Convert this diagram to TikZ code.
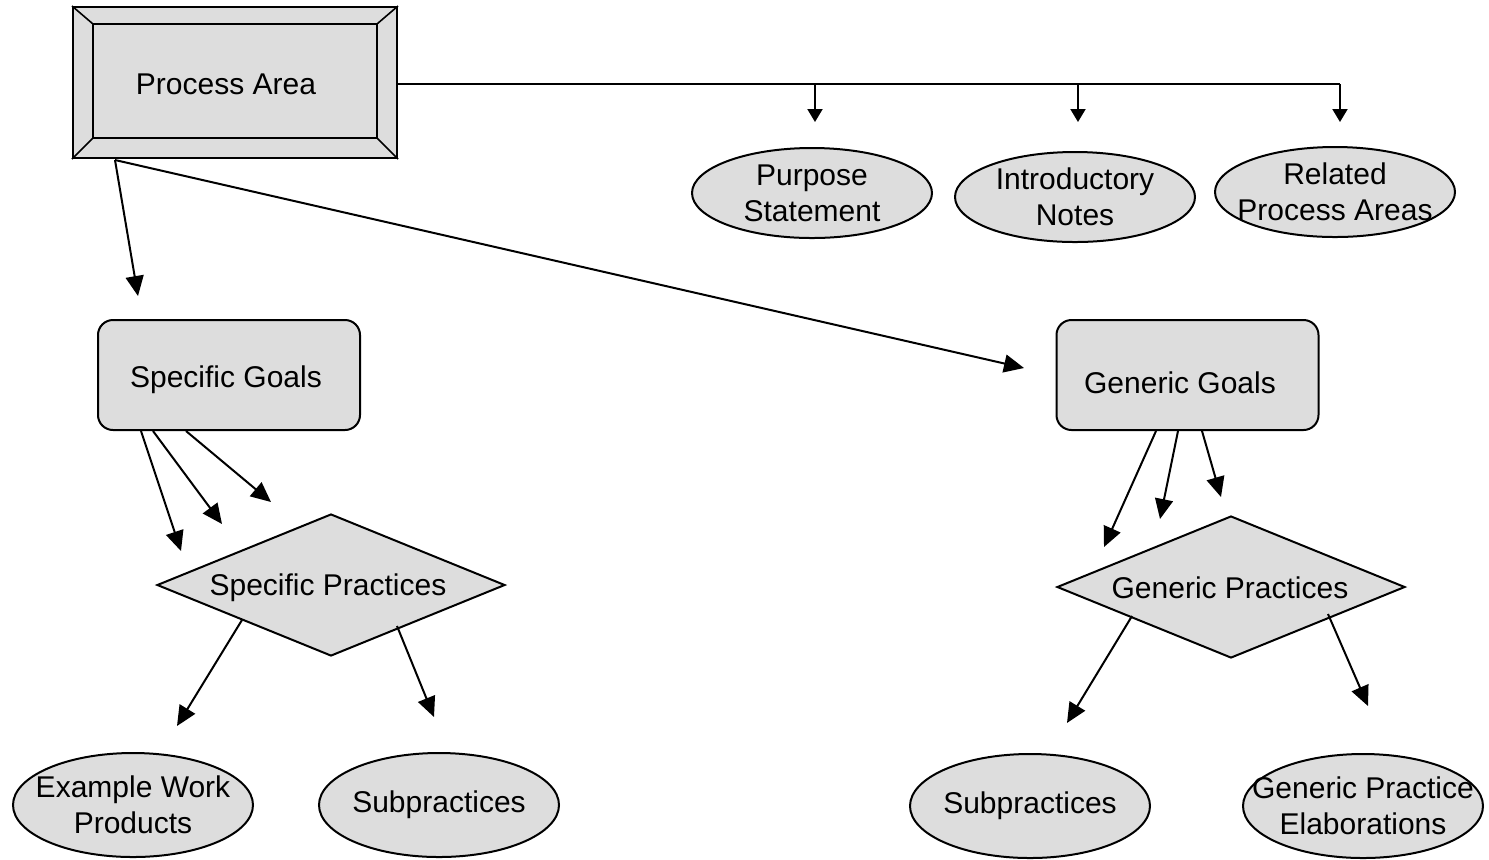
\documentclass[tikz,border=0pt]{standalone}
\usepackage{fontspec}
\setmainfont{Liberation Sans}
\usetikzlibrary{arrows.meta,shapes.geometric}
\definecolor{boxgray}{HTML}{DDDDDD}
\begin{document}
\begin{tikzpicture}[x=0.5pt,y=-0.5pt,
  every node/.style={font=\fontsize{15pt}{18pt}\selectfont, align=center},
  shapeline/.style={draw=black, line width=1pt, fill=boxgray},
  oval/.style={shapeline, ellipse, inner xsep=-30pt, inner ysep=-10pt, minimum width=120pt, minimum height=45pt},
  goalbox/.style={shapeline, rectangle, rounded corners=7.5pt, minimum width=131pt, minimum height=55pt},
  practice/.style={shapeline, diamond, aspect=2.45, inner sep=0pt, minimum width=174pt, minimum height=71pt},
  bigarrow/.style={line width=1pt, -{Triangle[length=10pt,width=9pt]}},
  smallarrow/.style={line width=1pt, -{Triangle[length=6.5pt,width=7.5pt]}}
]
\useasboundingbox (0,0) rectangle (1489,859);

% Process Area bevelled box
\node[shapeline, rectangle, minimum width=162pt, minimum height=75.5pt, inner sep=0pt] (pa) at (235,82.5) {};
\draw[line width=1pt] (93,24) rectangle (377,138);
\draw[line width=0.8pt] (pa.north west) -- (93,24) (pa.north east) -- (377,24)
  (pa.south west) -- (93,138) (pa.south east) -- (377,138);
\node (patext) at (226,84) {Process Area};

% top ovals
\node[oval] (ps) at (812,193) {Purpose\\Statement};
\node[oval] (in) at (1075,197) {Introductory\\Notes};
\node[oval] (rp) at (1335,192) {Related\\Process Areas};

\coordinate (hend) at (1340,84);
\coordinate (d1) at (815,84);
\coordinate (d2) at (1078,84);
\coordinate (t1) at (815,122);
\coordinate (t2) at (1078,122);
\coordinate (t3) at (1340,122);
\draw[line width=1pt] (pa.east |- hend) -- (hend);
\draw[smallarrow] (d1) -- (t1);
\draw[smallarrow] (d2) -- (t2);
\draw[smallarrow] (hend) -- (t3);

% goals
\node[goalbox] (sg) at (229,375) {};
\node (sgtext) at (226,380) {Specific Goals};
\node[goalbox] (gg) at (1187.5,375) {};
\node (ggtext) at (1180,383) {Generic Goals};

\coordinate (pastart) at (115,160);
\coordinate (sgtip) at (138,296);
\coordinate (ggtip) at (1024,368);
\draw[bigarrow] (pastart) -- (sgtip);
\draw[bigarrow] (pastart) -- (ggtip);

% practices
\node[practice] (sp) at (331,585) {};
\node (sptext) at (328,588) {Specific Practices};
\node[practice] (gp) at (1231,587) {};
\node (gptext) at (1230,588) {Generic Practices};

\coordinate (sa1) at (141,431); \coordinate (sb1) at (181,551);
\coordinate (sa2) at (153,431); \coordinate (sb2) at (222,524);
\coordinate (sa3) at (186,431); \coordinate (sb3) at (271,502);
\draw[bigarrow] (sa1) -- (sb1);
\draw[bigarrow] (sa2) -- (sb2);
\draw[bigarrow] (sa3) -- (sb3);

\coordinate (ga1) at (1156,431); \coordinate (gb1) at (1104,547);
\coordinate (ga2) at (1178,431); \coordinate (gb2) at (1160,519);
\coordinate (ga3) at (1202,431); \coordinate (gb3) at (1221,497);
\draw[bigarrow] (ga1) -- (gb1);
\draw[bigarrow] (ga2) -- (gb2);
\draw[bigarrow] (ga3) -- (gb3);

% bottom ovals
\node[oval, minimum height=52pt] (ew) at (133,805) {Example Work\\Products};
\node[oval, minimum height=52pt] (sub1) at (439,805) {Subpractices};
\node[oval, minimum height=52pt] (sub2) at (1030,806) {Subpractices};
\node[oval, minimum height=52pt] (gpe) at (1363,806) {Generic Practice\\Elaborations};

\coordinate (pa1) at (242,620); \coordinate (pb1) at (177,726);
\coordinate (pa2) at (397,626); \coordinate (pb2) at (434,717);
\coordinate (pa3) at (1132,616); \coordinate (pb3) at (1067,723);
\coordinate (pa4) at (1328,614); \coordinate (pb4) at (1368,706);
\draw[bigarrow] (pa1) -- (pb1);
\draw[bigarrow] (pa2) -- (pb2);
\draw[bigarrow] (pa3) -- (pb3);
\draw[bigarrow] (pa4) -- (pb4);
\end{tikzpicture}
\end{document}
